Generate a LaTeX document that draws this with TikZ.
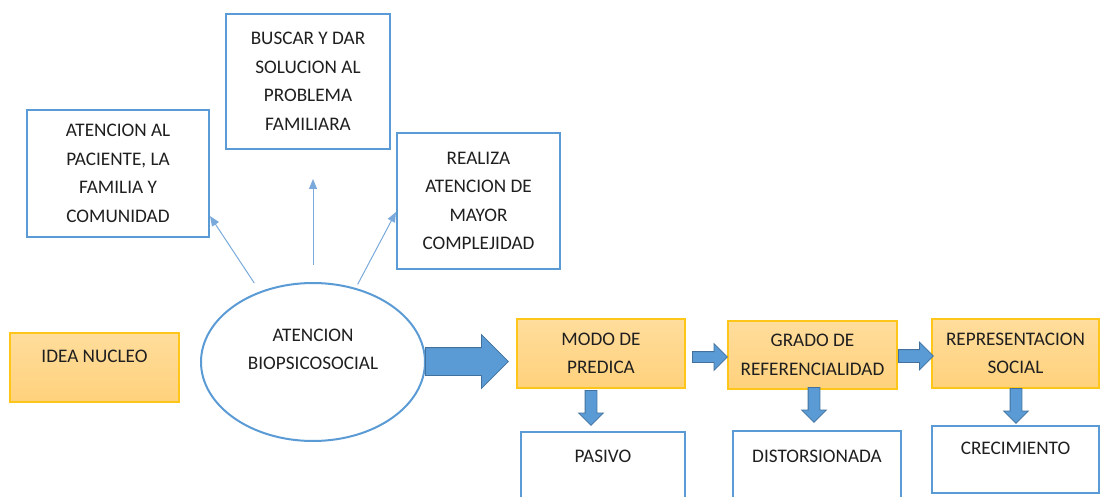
\documentclass[tikz,border=0pt]{standalone}
\usepackage{fontspec}
\setmainfont{Carlito}
\usepackage{xcolor}
\usepackage{tikz}
\usetikzlibrary{arrows.meta,calc,positioning,shapes.geometric,shapes.arrows}
\definecolor{boxblue}{HTML}{5B9BD5}
\definecolor{arrowedge}{HTML}{41719C}
\definecolor{thinblue}{HTML}{7AAADB}
\definecolor{gold}{HTML}{FFC61A}
\definecolor{orangetop}{HTML}{FFDD9C}
\definecolor{orangebot}{HTML}{FFD17C}

\begin{document}
\begin{tikzpicture}[x=1pt,y=-1pt,
  every node/.style={font=\fontsize{19.2}{28.5}\selectfont,text=black!88,align=center},
  bluebox/.style={draw=boxblue,line width=2pt,fill=white,inner sep=0pt},
  orangebox/.style={draw=gold,line width=1.4pt,top color=orangetop,bottom color=orangebot,inner sep=0pt},
  blockarrow/.style={single arrow,draw=arrowedge,fill=boxblue,line width=0.8pt,inner sep=0pt,
    text height=0pt,text depth=0pt,single arrow head indent=0pt,anchor=tail},
  thinarrow/.style={draw=thinblue,line width=1pt,-{Triangle[length=10pt,width=8pt]}}]
  \useasboundingbox (0,0) rectangle (1101,497);
  \clip (0,0) rectangle (1101,497);
  % core idea and the central ellipse
  \node[orangebox,minimum width=169pt,inner ysep=16pt,text height=13pt,text depth=24pt] (idea) at (94.5,367.5) {IDEA NUCLEO};
  \node[bluebox,ellipse,minimum width=224pt,minimum height=158pt] (ell) at (313,362) {ATENCION\\BIOPSICOSOCIAL\\[-3pt]\mbox{}};
  % boxes above
  \node[bluebox,minimum width=182pt,minimum height=127pt] (aten) at (118,173.5) {ATENCION AL\\PACIENTE, LA\\FAMILIA Y\\COMUNIDAD};
  \node[bluebox,minimum width=164pt,minimum height=135pt] (busc) at (308,81.5) {BUSCAR Y DAR\\SOLUCION AL\\PROBLEMA\\FAMILIARA};
  \node[bluebox,minimum width=163pt,minimum height=136pt] (real) at (478.5,201) {REALIZA\\ATENCION DE\\MAYOR\\COMPLEJIDAD};
  \draw[thinarrow,shorten <=10pt] (ell.127) -- ($(aten.south east)+(0,-22)$);
  \draw[thinarrow,shorten <=17pt,shorten >=29pt] (ell.north) -- (ell.north |- busc.south);
  \draw[thinarrow,shorten <=4pt] (ell.60) -- ($(real.west)+(0,11)$);
  % chain on the right
  \node[orangebox,minimum width=168pt,minimum height=69pt] (modo) at (601,353.5) {MODO DE\\PREDICA};
  \node[orangebox,minimum width=169pt,minimum height=68pt] (grado) at (812.5,355) {GRADO DE\\REFERENCIALIDAD};
  \node[orangebox,minimum width=167pt,minimum height=69pt] (repr) at (1015.5,353.5) {REPRESENTACION\\SOCIAL};
  \node[bluebox,minimum width=164pt,inner ysep=17pt,text height=13pt,text depth=36pt] (pasivo) at (603,473.5) {PASIVO};
  \node[bluebox,minimum width=168pt,inner ysep=18pt,text height=13pt,text depth=35pt] (dist) at (817,473) {DISTORSIONADA};
  \node[bluebox,minimum width=167pt,inner ysep=15pt,text height=13pt,text depth=24pt] (crec) at (1015.5,459.5) {CRECIMIENTO};
  % block arrows
  \node[blockarrow,minimum height=83pt,inner ysep=13.5pt,single arrow head extend=13pt] (a1) at (425,361.5) {};
  \node[blockarrow,minimum height=35pt,inner ysep=5pt,single arrow head extend=8pt] (a2) at (692,357) {};
  \node[blockarrow,minimum height=35pt,inner ysep=6pt,single arrow head extend=7.5pt] (a3) at (898,356) {};
  \foreach \n/\x/\y in {d1/591/390,d2/814/387,d3/1016/388}{
    \node[blockarrow,shape border rotate=270,minimum height=35pt,inner xsep=5.5pt,single arrow head extend=6.5pt] (\n) at (\x,\y) {};
  }
\end{tikzpicture}
\end{document}
